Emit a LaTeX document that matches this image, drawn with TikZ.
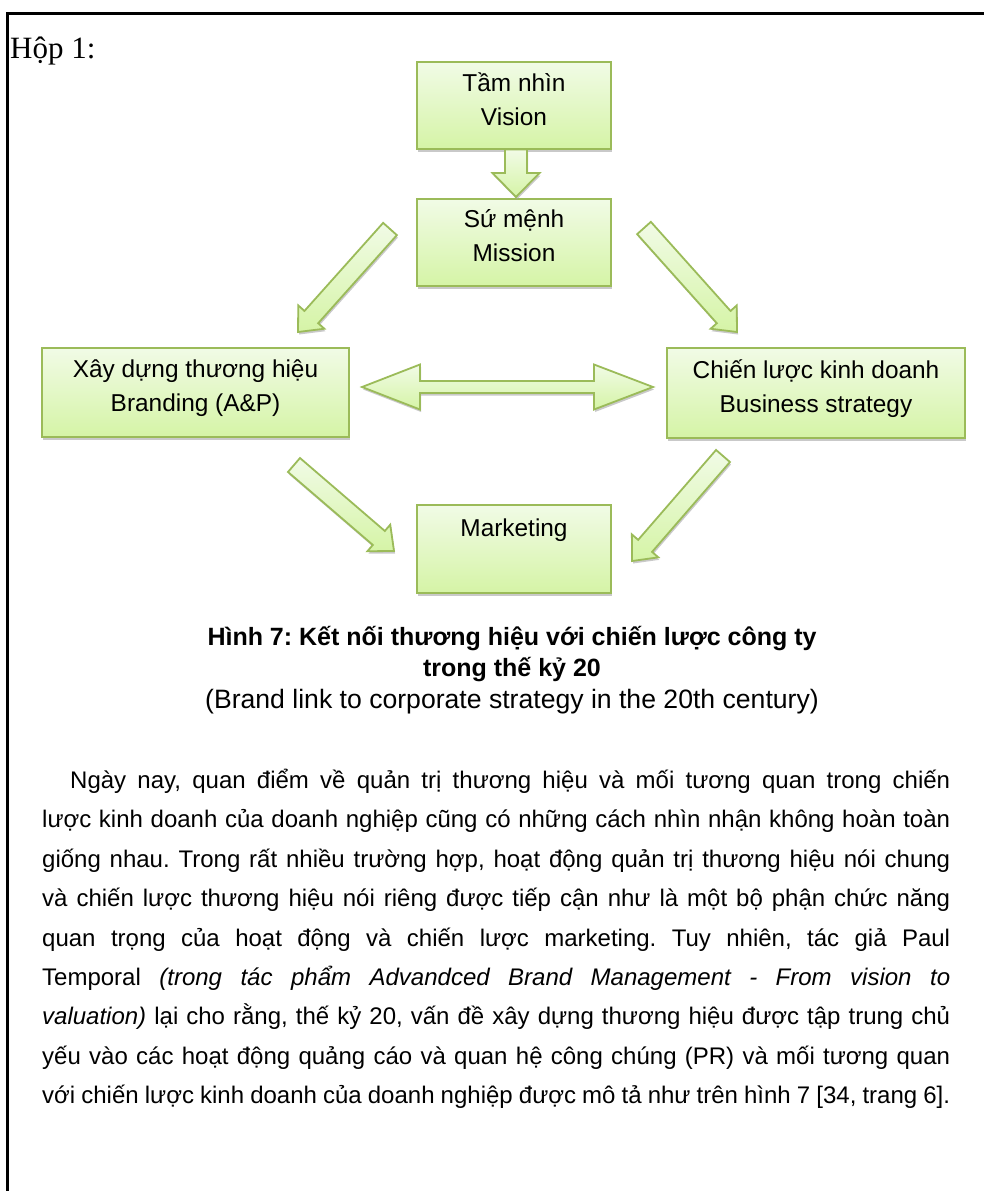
\documentclass[tikz,border=0pt]{standalone}
\usepackage{fontspec}
\setmainfont{Liberation Sans}
\newfontfamily\hopfont{Liberation Serif}
\usetikzlibrary{calc,shadows}
\definecolor{bord}{HTML}{9BBB59}
\definecolor{ftop}{HTML}{F1FBE6}
\definecolor{fbot}{HTML}{D5F4A6}
\tikzset{
  shad/.style={drop shadow={shadow xshift=1pt, shadow yshift=-2.5pt, fill=black!35, opacity=0.6}},
  box/.style={draw=bord, line width=2pt, top color=ftop, bottom color=fbot, minimum width=194pt,
    minimum height=87pt, inner sep=0pt, align=center, font=\fontsize{24.4}{34}\selectfont, shad},
  blk/.style={draw=bord, line width=1.8pt, top color=ftop, bottom color=fbot, line join=miter, shad},
  para/.style={anchor=north west, text width=908pt, align=justify, inner sep=0pt,
    font=\fontsize{24}{39.4}\selectfont},
}
\newcommand\blockarrow[5]{%
  \coordinate (ba-c) at ($(#2)!#5!(#1)$);
  \draw[blk] ($(#1)!#3!90:(#2)$) -- ($(ba-c)!#3!-90:(#1)$) -- ($(ba-c)!#4!-90:(#1)$) -- (#2)
    -- ($(ba-c)!#4!90:(#1)$) -- ($(ba-c)!#3!90:(#1)$) -- ($(#1)!#3!-90:(#2)$) -- cycle;
}
\newcommand\lift{\\[-21pt]\mbox{}}
\frenchspacing
\begin{document}
\begin{tikzpicture}[x=1pt,y=-1pt]
\useasboundingbox (0,0) rectangle (984,1191);
\fill[white] (0,0) rectangle (984,1191);
\draw[line width=2.5pt] (7.5,1195) -- (7.5,13.5) -- (990,13.5);
\node[anchor=base west, inner sep=0pt, font=\hopfont\fontsize{31}{34}\selectfont] (hop) at (10,58) {Hộp 1:};

% boxes
\node[box] (vision) at (514,105.5) {Tầm nhìn\\Vision\lift};
\node[box] (mission) at (514,242.5) {Sứ mệnh\\Mission\lift};
\node[box, minimum width=307pt, minimum height=89pt] (brand) at (195.5,392.5) {Xây dựng thương hiệu\\Branding (A\&P)\lift};
\node[box, minimum width=298pt, minimum height=90pt] (biz) at (816,393) {Chiến lược kinh doanh\\Business strategy\lift};
\node[box, minimum height=88pt] (mkt) at (514,549) {Marketing\\[8pt]~};

% arrow end points
\coordinate (vm1) at (516,149.5);
\coordinate (vm2) at (516,197);
\coordinate (mb1) at (390,229);
\coordinate (mb2) at (298,332);
\coordinate (mz1) at (644,228);
\coordinate (mz2) at (737,332);
\coordinate (bk1) at (294,465);
\coordinate (bk2) at (394,551);
\coordinate (zk1) at (723,456);
\coordinate (zk2) at (632,561);
\coordinate (dl) at (362,387);
\coordinate (dr) at (653,387);

\blockarrow{vm1}{vm2}{11pt}{23.5pt}{24pt}
\blockarrow{mb1}{mb2}{9.2pt}{17.5pt}{20pt}
\blockarrow{mz1}{mz2}{9.2pt}{17.5pt}{20pt}
\blockarrow{bk1}{bk2}{9.2pt}{17.5pt}{20pt}
\blockarrow{zk1}{zk2}{9.2pt}{17.5pt}{20pt}
\draw[blk] (dl) -- ($(dl)+(58,-22.5)$) -- ($(dl)+(58,-6)$) -- ($(dr)+(-59,-6)$) -- ($(dr)+(-59,-22.5)$)
  -- (dr) -- ($(dr)+(-59,22.5)$) -- ($(dr)+(-59,6)$) -- ($(dl)+(58,6)$) -- ($(dl)+(58,22.5)$) -- cycle;

% caption
\node[align=center, inner sep=0pt, font=\fontsize{25}{31.5}\selectfont] (cap) at (512,670)
  {\textbf{Hình 7: Kết nối thương hiệu với chiến lược công ty}\\\textbf{trong thế kỷ 20}\\{\fontsize{26.6}{31.5}\selectfont(Brand link to corporate strategy in the 20th century)}};

% paragraph
\node[para] (txt) at (42,769) {\hspace*{28pt}Ngày nay, quan điểm về quản trị thương hiệu và mối tương quan trong chiến\linebreak
lược kinh doanh của doanh nghiệp cũng có những cách nhìn nhận không hoàn toàn\linebreak
giống nhau. Trong rất nhiều trường hợp, hoạt động quản trị thương hiệu nói chung\linebreak
và chiến lược thương hiệu nói riêng được tiếp cận như là một bộ phận chức năng\linebreak
quan trọng của hoạt động và chiến lược marketing. Tuy nhiên, tác giả Paul\linebreak
Temporal \textit{(trong tác phẩm Advandced Brand Management - From vision to}\linebreak
\textit{valuation)} lại cho rằng, thế kỷ 20, vấn đề xây dựng thương hiệu được tập trung chủ\linebreak
yếu vào các hoạt động quảng cáo và quan hệ công chúng (PR) và mối tương quan\linebreak
với chiến lược kinh doanh của doanh nghiệp được mô tả như trên hình 7 [34, trang 6].};
\end{tikzpicture}
\end{document}
